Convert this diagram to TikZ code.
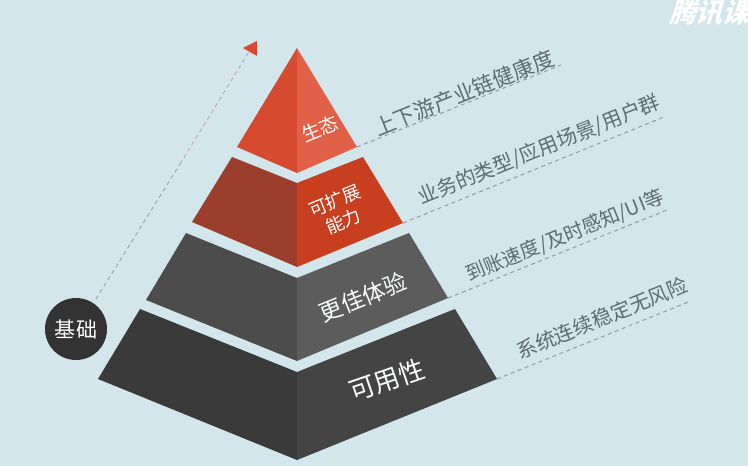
\documentclass[tikz,border=0pt]{standalone}
\usepackage{fontspec}
\setmainfont{Noto Sans CJK SC}
\newfontfamily\wmfont[FakeSlant=0.3]{Noto Sans CJK SC}
\definecolor{bgc}{HTML}{D2E6EB}
\definecolor{redL}{HTML}{D64A30}
\definecolor{redR}{HTML}{E06147}
\definecolor{rustL}{HTML}{9B3F2C}
\definecolor{rustR}{HTML}{C83F20}
\definecolor{greyL}{HTML}{4D4C4C}
\definecolor{greyR}{HTML}{5C5C5C}
\definecolor{darkL}{HTML}{3A3A3A}
\definecolor{darkR}{HTML}{444444}
\definecolor{leadc}{HTML}{8E9DA3}
\definecolor{labc}{HTML}{5F6C71}
\definecolor{pinkc}{HTML}{C79AA0}
\tikzset{
  face/.style={fill=#1,draw=none},
  leader/.style={draw=leadc,line width=0.75pt,dash pattern=on 3pt off 2.6pt},
  sidetext/.style={text=labc,inner sep=0pt,anchor=center,rotate=22,font=\fontsize{15.2}{18}\selectfont},
  tiertext/.style={text=white!92!bgc,inner sep=0pt,anchor=center,rotate=22,align=center},
}
\begin{document}
\begin{tikzpicture}[x=0.75pt,y=-0.75pt]
\useasboundingbox (0,0) rectangle (748,466);
\clip (0,0) rectangle (748,466);
\fill[bgc] (0,0) rectangle (748,466);
% named coordinates
\coordinate (apex) at (297,48);
\coordinate (t1l) at (237,147);
\coordinate (t1b) at (297,173);
\coordinate (t1r) at (357,147);
\coordinate (t2tl) at (232,157);
\coordinate (t2tc) at (297,183);
\coordinate (t2tr) at (363,157);
\coordinate (t2bl) at (192,222);
\coordinate (t2b) at (297,267);
\coordinate (t2br) at (403,223);
\coordinate (t3tl) at (186,233);
\coordinate (t3tc) at (297,278);
\coordinate (t3tr) at (409,233);
\coordinate (t3bl) at (146,300);
\coordinate (t3b) at (297,361);
\coordinate (t3br) at (448,298);
\coordinate (t4tl) at (140,309);
\coordinate (t4tc) at (297,372);
\coordinate (t4tr) at (455,309);
\coordinate (t4bl) at (98,379);
\coordinate (t4b) at (297,460);
\coordinate (t4br) at (497,379);
\coordinate (e1) at (561,65);
\coordinate (e2) at (664,117);
\coordinate (e3) at (667,210);
\coordinate (e4) at (691,301);
% leaders
\draw[leader] (t1r) -- (e1);
\draw[leader] (t2br) -- (e2);
\draw[leader] (t3br) -- (e3);
\draw[leader] (t4br) -- (e4);
% pyramid
\fill[face=redL] (apex) -- (t1l) -- (t1b) -- cycle;
\fill[face=redR] (apex) -- (t1b) -- (t1r) -- cycle;
\fill[face=rustL] (t2tl) -- (t2tc) -- (t2b) -- (t2bl) -- cycle;
\fill[face=rustR] (t2tc) -- (t2tr) -- (t2br) -- (t2b) -- cycle;
\fill[face=greyL] (t3tl) -- (t3tc) -- (t3b) -- (t3bl) -- cycle;
\fill[face=greyR] (t3tc) -- (t3tr) -- (t3br) -- (t3b) -- cycle;
\fill[face=darkL] (t4tl) -- (t4tc) -- (t4b) -- (t4bl) -- cycle;
\fill[face=darkR] (t4tc) -- (t4tr) -- (t4br) -- (t4b) -- cycle;
% base circle and rising arrow
\node[circle,fill=black!80,minimum size=46.5pt,inner sep=0pt,text=white,font=\fontsize{15.8}{18}\selectfont] (base) at (76,329) {基础};
\coordinate (mid) at (180,164);
\coordinate (tip) at (250,50);
\draw[leader,line width=0.6pt] (96,299) -- (mid);
\draw[draw=pinkc,line width=0.6pt,dash pattern=on 3pt off 2.6pt] (mid) -- (tip);
\coordinate (a1) at (243,48);
\coordinate (a2) at (257,41);
\coordinate (a3) at (257,56);
\fill[redL] (a1) -- (a2) -- (a3) -- cycle;
% tier labels
\node[tiertext,font=\fontsize{14.2}{17}\selectfont] (l1) at (320,129) {生态};
\node[tiertext,font=\fontsize{13.6}{17}\selectfont] (l2) at (339,211) {可扩展\\能力};
\node[tiertext,font=\fontsize{17.2}{20}\selectfont] (l3) at (363,297) {更佳体验};
\node[tiertext,rotate=-3,font=\fontsize{19.5}{22}\selectfont] (l4) at (387,380) {可用性};
% side labels
\node[sidetext,font=\fontsize{16}{18}\selectfont] (s1) at (464,93) {上下游产业链健康度};
\node[sidetext] (s2) at (539,150) {业务的类型/应用场景/用户群};
\node[sidetext,font=\fontsize{14.7}{18}\selectfont] (s3) at (565,236) {到账速度/及时感知/UI等};
\node[sidetext] (s4) at (602,318) {系统连续稳定无风险};
% watermark
\node[anchor=west,inner sep=0pt,text=white,font=\wmfont\bfseries\fontsize{20}{22}\selectfont] (wm) at (669,13) {腾讯课};
\end{tikzpicture}
\end{document}
